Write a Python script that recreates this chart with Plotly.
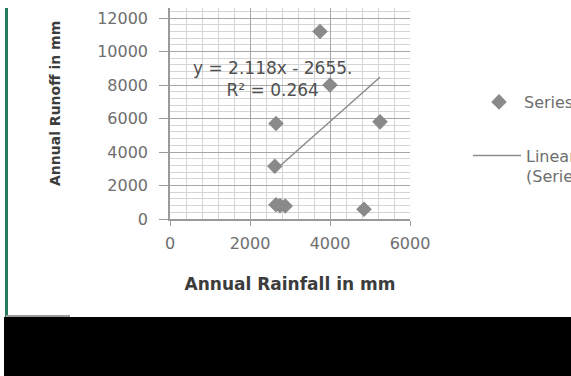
import plotly.graph_objects as go

# Data
rainfall = [3750, 4000, 2650, 5250, 2620, 2650, 2750, 2880, 4850]
runoff = [11200, 8000, 5700, 5800, 3150, 850, 800, 780, 580]

trend_slope = 2.118
trend_intercept = -2655.0
eq_text = "y = 2.118x - 2655.<br>R² = 0.264"

x_ticks = [0, 2000, 4000, 6000]
y_ticks = [0, 2000, 4000, 6000, 8000, 10000, 12000]

x_title = "<b>Annual Rainfall in mm</b>"
y_title = "<b>Annual Runoff in mm</b>"

# figure geometry (px)
W, H = 571, 376
L, R, T, B = 170, 410, 8, 219


def px(xp):
    return (xp - L) / (R - L)


def py(yp):
    return (B - yp) / (B - T)


tx = [min(rainfall), max(rainfall)]
ty = [trend_slope * v + trend_intercept for v in tx]

fig = go.Figure()
fig.add_trace(go.Scatter(
    x=rainfall, y=runoff, mode="markers", name="Series1",
    marker=dict(symbol="diamond", size=12, color="#8a8a8a"),
    legend="legend",
))
fig.add_trace(go.Scatter(
    x=tx, y=ty, mode="lines", name="Linear<br>(Series1)",
    line=dict(color="#8c8c8c", width=1.5),
    legend="legend2",
))

tickfont = dict(family="DejaVu Sans", size=16, color="#6e6e6e")
legfont = dict(family="DejaVu Sans", size=16, color="#6e6e6e")

fig.update_layout(
    width=W, height=H,
    margin=dict(l=L, r=W - R, t=T, b=H - B, autoexpand=False),
    paper_bgcolor="white", plot_bgcolor="white",
    showlegend=True,
    legend=dict(x=px(474), y=py(102), xanchor="left", yanchor="middle",
                font=legfont, bgcolor="rgba(0,0,0,0)", itemwidth=40),
    legend2=dict(x=px(468), y=py(166), xanchor="left", yanchor="middle",
                 font=legfont, bgcolor="rgba(0,0,0,0)", itemwidth=48, valign="top"),
    xaxis=dict(range=[0, 6000], tickvals=x_ticks, ticktext=[str(v) for v in x_ticks],
               showgrid=True, gridcolor="#a8a8a8", gridwidth=1,
               minor=dict(dtick=400, showgrid=True, gridcolor="#d4d4d4", gridwidth=1),
               showline=True, linecolor="#9a9a9a", linewidth=1.5,
               ticks="outside", ticklen=5, tickcolor="#9a9a9a",
               ticklabelstandoff=4,
               tickfont=tickfont, zeroline=False,
               title=dict(text=x_title, standoff=26,
                          font=dict(family="DejaVu Sans", size=17, color="#3c3c3c"))),
    yaxis=dict(range=[0, 12600], tickvals=y_ticks, ticktext=[str(v) for v in y_ticks],
               showgrid=True, gridcolor="#a8a8a8", gridwidth=1,
               minor=dict(dtick=400, showgrid=True, gridcolor="#d4d4d4", gridwidth=1),
               showline=True, linecolor="#9a9a9a", linewidth=1.5,
               ticks="outside", ticklen=9, tickcolor="#9a9a9a",
               ticklabelstandoff=8,
               tickfont=tickfont, zeroline=False),
    annotations=[
        dict(text=eq_text, xref="paper", yref="paper", x=px(272), y=py(79),
             xanchor="center", yanchor="middle",
             showarrow=False, align="center",
             font=dict(family="DejaVu Sans", size=17, color="#505050")),
        dict(text=y_title, xref="paper", yref="paper", x=px(55), y=py(104),
             xanchor="center", yanchor="middle", textangle=-90, showarrow=False,
             font=dict(family="DejaVu Sans", size=14, color="#3c3c3c")),
    ],
    shapes=[
        dict(type="rect", xref="paper", yref="paper", x0=px(4), x1=px(W + 5),
             y0=py(317), y1=py(H + 5), fillcolor="black", line=dict(width=0), layer="above"),
        dict(type="line", xref="paper", yref="paper", x0=px(6.5), x1=px(6.5),
             y0=py(8), y1=py(317), line=dict(color="#237a5c", width=3)),
        dict(type="line", xref="paper", yref="paper", x0=px(6), x1=px(70),
             y0=py(316), y1=py(316), line=dict(color="#9a9a9a", width=2)),
    ],
)

fig.write_html("out.html", config={"displayModeBar": False},
               post_script="document.body.style.margin='0';")
